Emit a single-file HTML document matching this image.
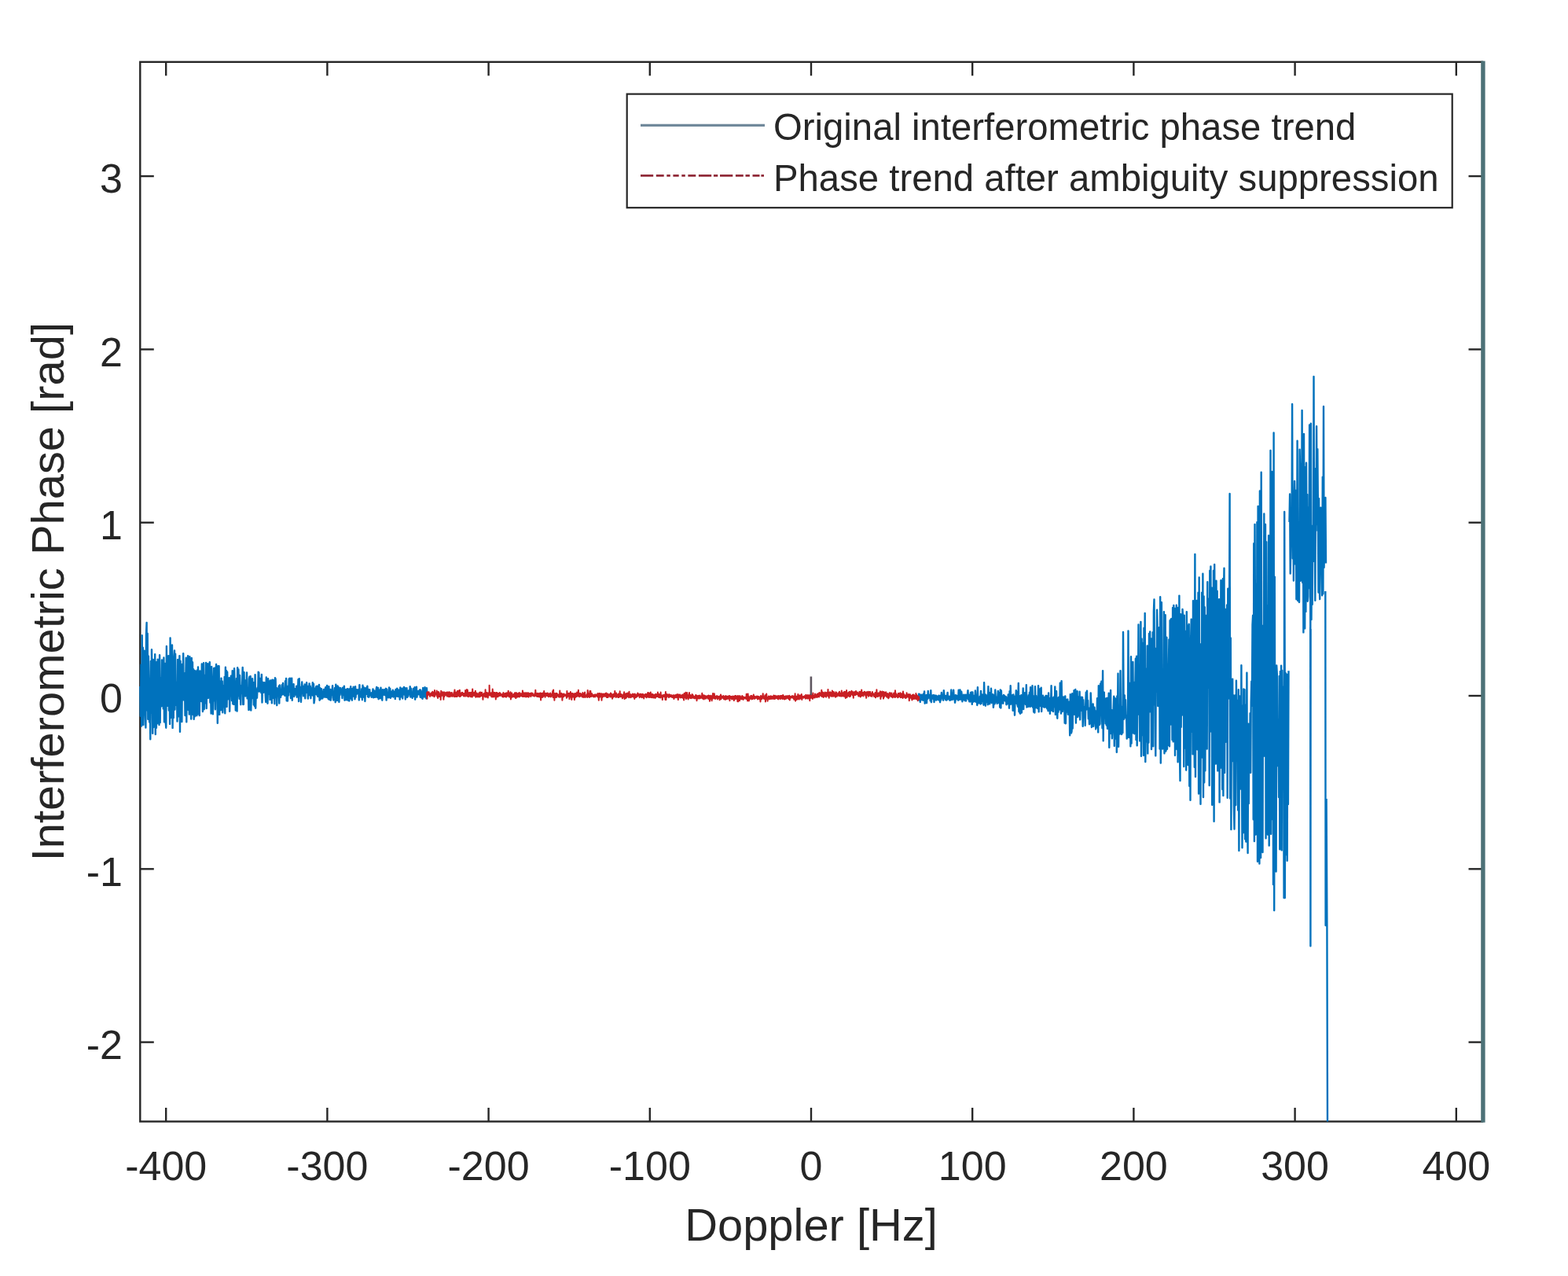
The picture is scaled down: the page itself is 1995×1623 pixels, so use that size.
<!DOCTYPE html>
<html><head><meta charset="utf-8"><title>Interferometric phase vs Doppler</title><style>
html,body{margin:0;padding:0;background:#fff;}
svg{display:block;}
text{font-family:"Liberation Sans",Arial,sans-serif;fill:#262626;}
</style></head><body>
<svg width="1995" height="1623" viewBox="0 0 1995 1623">
<rect width="1995" height="1623" fill="#fff"/>
<clipPath id="c"><rect x="177.0" y="78.8" width="1709.0" height="1347.7"/></clipPath>

<g stroke="#262626" stroke-width="2.4" fill="none">
<rect x="178.3" y="78.8" width="1707.7" height="1347.7"/>
<line x1="211.2" y1="1426.5" x2="211.2" y2="1409.0"/><line x1="211.2" y1="78.8" x2="211.2" y2="96.3"/><line x1="416.4" y1="1426.5" x2="416.4" y2="1409.0"/><line x1="416.4" y1="78.8" x2="416.4" y2="96.3"/><line x1="621.6" y1="1426.5" x2="621.6" y2="1409.0"/><line x1="621.6" y1="78.8" x2="621.6" y2="96.3"/><line x1="826.8" y1="1426.5" x2="826.8" y2="1409.0"/><line x1="826.8" y1="78.8" x2="826.8" y2="96.3"/><line x1="1032.0" y1="1426.5" x2="1032.0" y2="1409.0"/><line x1="1032.0" y1="78.8" x2="1032.0" y2="96.3"/><line x1="1237.2" y1="1426.5" x2="1237.2" y2="1409.0"/><line x1="1237.2" y1="78.8" x2="1237.2" y2="96.3"/><line x1="1442.4" y1="1426.5" x2="1442.4" y2="1409.0"/><line x1="1442.4" y1="78.8" x2="1442.4" y2="96.3"/><line x1="1647.6" y1="1426.5" x2="1647.6" y2="1409.0"/><line x1="1647.6" y1="78.8" x2="1647.6" y2="96.3"/><line x1="1852.8" y1="1426.5" x2="1852.8" y2="1409.0"/><line x1="1852.8" y1="78.8" x2="1852.8" y2="96.3"/><line x1="178.3" y1="1325.6" x2="195.8" y2="1325.6"/><line x1="1886.0" y1="1325.6" x2="1868.5" y2="1325.6"/><line x1="178.3" y1="1105.3" x2="195.8" y2="1105.3"/><line x1="1886.0" y1="1105.3" x2="1868.5" y2="1105.3"/><line x1="178.3" y1="885.0" x2="195.8" y2="885.0"/><line x1="1886.0" y1="885.0" x2="1868.5" y2="885.0"/><line x1="178.3" y1="664.7" x2="195.8" y2="664.7"/><line x1="1886.0" y1="664.7" x2="1868.5" y2="664.7"/><line x1="178.3" y1="444.4" x2="195.8" y2="444.4"/><line x1="1886.0" y1="444.4" x2="1868.5" y2="444.4"/><line x1="178.3" y1="224.1" x2="195.8" y2="224.1"/><line x1="1886.0" y1="224.1" x2="1868.5" y2="224.1"/>
</g>
<g clip-path="url(#c)" fill="none" stroke-linejoin="round">
<path d="M178.3 873.0L178.9 910.7 179.5 845.4 180.1 923.6 180.7 808.3 181.2 916.0 181.8 823.8 182.4 921.9 183.0 892.6 183.6 827.6 184.2 837.8 184.8 898.5 185.4 925.5 186.0 806.8 186.6 792.0 187.1 903.4 187.7 805.8 188.3 914.7 188.9 834.5 189.5 871.3 190.1 918.4 190.7 869.0 191.3 940.2 191.9 841.0 192.5 906.5 193.0 826.2 193.6 871.2 194.2 932.7 194.8 838.9 195.4 925.1 196.0 841.1 196.6 922.4 197.2 832.3 197.8 934.0 198.4 857.2 198.9 925.8 199.5 842.0 200.1 920.3 200.7 838.8 201.3 893.0 201.9 866.3 202.5 922.0 203.1 833.2 203.7 919.1 204.3 862.2 204.8 894.5 205.4 898.4 206.0 839.4 206.6 885.0 207.2 849.7 207.8 901.4 208.4 836.5 209.0 918.2 209.6 843.7 210.2 856.2 210.7 917.7 211.3 925.7 211.9 822.0 212.5 895.9 213.1 870.0 213.7 897.9 214.3 834.1 214.9 903.5 215.5 860.9 216.1 920.9 216.6 811.4 217.2 913.1 217.8 860.1 218.4 884.8 219.0 820.4 219.6 925.9 220.2 848.2 220.8 913.0 221.4 836.3 222.0 827.5 222.5 902.6 223.1 831.6 223.7 896.8 224.3 881.7 224.9 867.7 225.5 917.5 226.1 838.9 226.7 911.4 227.3 851.5 227.9 887.0 228.4 834.1 229.0 930.8 229.6 840.8 230.2 907.4 230.8 858.5 231.4 918.0 232.0 844.8 232.6 890.1 233.2 831.1 233.8 890.4 234.3 860.8 234.9 856.5 235.5 910.1 236.1 874.8 236.7 836.8 237.3 918.3 237.9 846.5 238.5 896.6 239.1 834.3 239.7 903.0 240.2 855.7 240.8 908.5 241.4 835.1 242.0 908.3 242.6 838.0 243.2 914.6 243.8 836.9 244.4 904.1 245.0 842.2 245.6 909.1 246.1 851.1 246.7 914.8 247.3 853.0 247.9 911.2 248.5 853.5 249.1 902.6 249.7 870.2 250.3 910.2 250.9 852.5 251.5 908.6 252.0 848.5 252.6 868.2 253.2 881.8 253.8 910.1 254.4 853.4 255.0 887.5 255.6 857.4 256.2 892.0 256.8 844.5 257.4 854.8 257.9 905.0 258.5 856.4 259.1 843.2 259.7 902.3 260.3 879.7 260.9 858.6 261.5 894.4 262.1 842.9 262.7 901.1 263.3 868.5 263.8 879.4 264.4 844.1 265.0 887.9 265.6 862.1 266.2 879.9 266.8 842.1 267.4 893.5 268.0 873.0 268.6 907.6 269.2 847.9 269.7 876.6 270.3 867.2 270.9 908.2 271.5 872.4 272.1 850.0 272.7 891.4 273.3 849.6 273.9 902.3 274.5 857.5 275.1 845.0 275.6 879.2 276.2 864.8 276.8 919.8 277.4 847.2 278.0 893.1 278.6 847.2 279.2 908.9 279.8 866.4 280.4 890.6 281.0 903.3 281.5 862.6 282.1 884.9 282.7 866.4 283.3 906.3 283.9 897.6 284.5 871.9 285.1 883.9 285.7 860.9 286.3 907.3 286.9 848.8 287.4 892.6 288.0 853.0 288.6 898.9 289.2 854.8 289.8 889.5 290.4 871.6 291.0 877.8 291.6 862.1 292.2 904.7 292.8 873.4 293.3 883.3 293.9 859.6 294.5 863.9 295.1 891.1 295.7 853.2 296.3 895.3 296.9 860.9 297.5 895.9 298.1 850.3 298.7 874.8 299.2 866.4 299.8 903.5 300.4 892.3 301.0 862.9 301.6 904.5 302.2 849.2 302.8 885.0 303.4 851.4 304.0 881.0 304.6 888.8 305.1 858.9 305.7 878.7 306.3 896.3 306.9 872.3 307.5 881.9 308.1 872.5 308.7 849.0 309.3 896.0 309.9 895.9 310.5 854.9 311.0 883.3 311.6 874.0 312.2 885.5 312.8 865.2 313.4 880.0 314.0 855.5 314.6 888.4 315.2 887.2 315.8 875.8 316.4 903.0 316.9 863.6 317.5 860.7 318.1 902.4 318.7 860.1 319.3 903.6 319.9 882.2 320.5 881.9 321.1 863.2 321.7 888.1 322.3 867.9 322.8 896.4 323.4 871.6 324.0 898.2 324.6 858.3 325.2 900.8 325.8 879.8 326.4 876.6 327.0 887.7 327.6 874.8 328.2 879.2 328.7 854.8 329.3 855.3 329.9 879.6 330.5 862.6 331.1 870.0 331.7 862.9 332.3 881.3 332.9 857.9 333.5 893.5 334.1 868.1 334.6 868.0 335.2 880.9 335.8 872.7 336.4 868.3 337.0 871.7 337.6 882.3 338.2 893.0 338.8 861.5 339.4 890.4 340.0 869.6 340.5 894.7 341.1 863.2 341.7 882.7 342.3 879.9 342.9 866.4 343.5 889.9 344.1 865.4 344.7 880.7 345.3 876.8 345.9 894.4 346.4 864.6 347.0 888.1 347.6 865.0 348.2 882.9 348.8 877.1 349.4 895.3 350.0 862.2 350.6 863.5 351.2 887.0 351.8 874.9 352.3 897.1 352.9 878.2 353.5 876.0 354.1 882.7 354.7 872.8 355.3 894.6 355.9 871.4 356.5 884.1 357.1 886.8 357.7 877.6 358.2 884.3 358.8 871.2 359.4 883.0 360.0 869.0 360.6 883.2 361.2 877.7 361.8 875.6 362.4 884.9 363.0 866.3 363.6 882.9 364.1 862.9 364.7 891.2 365.3 877.3 365.9 891.6 366.5 872.7 367.1 884.5 367.7 863.5 368.3 879.8 368.9 862.7 369.5 872.1 370.0 888.1 370.6 883.9 371.2 862.6 371.8 890.7 372.4 876.7 373.0 882.9 373.6 870.1 374.2 886.0 374.8 883.2 375.4 883.2 375.9 875.9 376.5 883.6 377.1 872.8 377.7 886.7 378.3 879.0 378.9 880.0 379.5 864.2 380.1 892.1 380.7 863.2 381.3 884.8 381.8 874.4 382.4 874.2 383.0 892.9 383.6 875.7 384.2 867.5 384.8 879.5 385.4 877.3 386.0 885.4 386.6 872.6 387.2 882.3 387.7 870.5 388.3 888.4 388.9 872.6 389.5 881.0 390.1 868.1 390.7 880.2 391.3 876.0 391.9 888.6 392.5 872.8 393.1 884.4 393.6 869.4 394.2 882.0 394.8 872.8 395.4 888.2 396.0 875.5 396.6 879.5 397.2 884.0 397.8 868.2 398.4 884.9 399.0 869.9 399.5 894.2 400.1 890.6 400.7 876.0 401.3 883.0 401.9 874.6 402.5 872.9 403.1 883.7 403.7 872.7 404.3 886.0 404.9 875.3 405.4 882.9 406.0 871.0 406.6 890.7 407.2 875.0 407.8 889.3 408.4 887.0 409.0 876.1 409.6 881.1 410.2 888.6 410.8 886.9 411.3 886.4 411.9 877.0 412.5 884.4 413.1 886.6 413.7 876.7 414.3 874.1 414.9 886.8 415.5 877.9 416.1 871.9 416.7 887.4 417.2 878.5 417.8 889.1 418.4 873.1 419.0 889.9 419.6 879.8 420.2 877.0 420.8 890.8 421.4 877.9 422.0 883.8 422.6 877.8 423.1 872.1 423.7 887.3 424.3 890.5 424.9 880.2 425.5 882.0 426.1 874.9 426.7 893.3 427.3 870.6 427.9 889.8 428.5 874.0 429.0 891.1 429.6 872.4 430.2 882.9 430.8 874.3 431.4 893.0 432.0 878.5 432.6 884.0 433.2 874.9 433.8 876.6 434.4 877.1 434.9 877.1 435.5 888.1 436.1 874.8 436.7 883.7 437.3 884.0 437.9 872.6 438.5 890.7 439.1 879.1 439.7 888.9 440.3 876.9 440.8 890.4 441.4 880.2 442.0 876.1 442.6 876.1 443.2 891.1 443.8 878.7 444.4 891.5 445.0 876.1 445.6 882.0 446.2 873.1 446.7 888.7 447.3 876.5 447.9 890.7 448.5 875.9 449.1 884.6 449.7 873.7 450.3 885.9 450.9 875.5 451.5 889.4 452.1 873.3 452.6 887.0 453.2 876.9 453.8 882.8 454.4 877.5 455.0 877.2 455.6 881.8 456.2 878.9 456.8 890.5 457.4 871.1 458.0 886.5 458.5 885.3 459.1 880.4 459.7 886.7 460.3 876.1 460.9 890.2 461.5 871.8 462.1 886.4 462.7 874.3 463.3 887.0 463.9 877.1 464.4 892.0 465.0 875.3 465.6 882.9 466.2 882.9 466.8 875.2 467.4 872.7 468.0 886.3 468.6 876.8 469.2 886.8 469.8 885.3 470.3 877.1 470.9 884.1 471.5 881.3 472.1 882.5 472.7 886.8 473.3 880.9 473.9 883.9 474.5 876.4 475.1 887.4 475.7 878.3 476.2 886.8 476.8 881.3 477.4 886.9 478.0 879.2 478.6 877.3 479.2 874.0 479.8 886.9 480.4 879.3 481.0 874.9 481.6 889.3 482.1 879.2 482.7 886.4 483.3 877.5 483.9 888.4 484.5 874.8 485.1 886.7 485.7 881.3 486.3 890.7 486.9 877.2 487.5 884.1 488.0 877.9 488.6 883.6 489.2 877.3 489.8 884.2 490.4 878.0 491.0 875.8 491.6 890.6 492.2 876.8 492.8 887.3 493.4 880.8 493.9 885.7 494.5 887.3 495.1 874.5 495.7 886.9 496.3 875.9 496.9 887.9 497.5 881.6 498.1 886.1 498.7 879.4 499.3 882.5 499.8 877.8 500.4 886.5 501.0 879.9 501.6 885.1 502.2 879.4 502.8 889.1 503.4 877.0 504.0 879.4 504.6 885.5 505.2 875.7 505.7 876.6 506.3 886.1 506.9 879.3 507.5 882.1 508.1 877.5 508.7 889.7 509.3 874.5 509.9 886.4 510.5 877.1 511.1 886.5 511.6 875.8 512.2 888.5 512.8 875.7 513.4 876.3 514.0 873.9 514.6 883.6 515.2 875.0 515.8 889.5 516.4 879.0 517.0 885.9 517.5 875.1 518.1 887.0 518.7 881.7 519.3 885.6 519.9 878.4 520.5 881.5 521.1 883.3 521.7 873.2 522.3 886.6 522.9 875.7 523.4 884.3 524.0 881.0 524.6 887.9 525.2 884.8 525.8 876.0 526.4 885.9 527.0 879.0 527.6 874.3 528.2 889.7 528.8 877.7 529.3 884.9 529.9 873.6 530.5 886.7 531.1 879.8 531.7 882.8 532.3 878.9 532.9 883.4 533.5 880.6 534.1 877.4 534.7 886.7 535.2 877.7 535.8 880.5 536.4 887.5 537.0 880.2 537.6 888.9 538.2 875.0 538.8 886.1 539.4 880.1 540.0 886.6 540.6 874.2 541.1 884.4 541.7 879.0 542.3 888.5 542.9 875.2 543.5 883.3 M1169.0 881.7L1169.6 890.6 1170.2 883.3 1170.8 893.0 1171.4 884.8 1171.9 890.1 1172.5 883.8 1173.1 890.1 1173.7 884.9 1174.3 890.7 1174.9 882.5 1175.5 890.4 1176.1 879.4 1176.7 894.7 1177.3 886.1 1177.8 887.7 1178.4 884.3 1179.0 894.2 1179.6 884.0 1180.2 889.0 1180.8 879.0 1181.4 887.5 1182.0 883.8 1182.6 885.3 1183.2 886.1 1183.7 891.3 1184.3 878.2 1184.9 893.2 1185.5 885.8 1186.1 888.6 1186.7 884.5 1187.3 888.8 1187.9 884.1 1188.5 893.1 1189.0 884.7 1189.6 890.4 1190.2 884.7 1190.8 884.6 1191.4 890.6 1192.0 885.4 1192.6 888.1 1193.2 886.5 1193.8 890.0 1194.4 884.6 1194.9 890.6 1195.5 886.0 1196.1 893.2 1196.7 884.6 1197.3 890.3 1197.9 880.9 1198.5 887.7 1199.1 885.9 1199.7 884.2 1200.2 890.7 1200.8 878.1 1201.4 884.0 1202.0 888.2 1202.6 884.9 1203.2 890.2 1203.8 885.2 1204.4 890.6 1205.0 885.5 1205.6 880.9 1206.1 889.4 1206.7 885.9 1207.3 889.0 1207.9 885.7 1208.5 890.9 1209.1 885.8 1209.7 890.2 1210.3 877.5 1210.9 884.2 1211.5 890.0 1212.0 885.9 1212.6 889.1 1213.2 877.8 1213.8 889.5 1214.4 884.3 1215.0 893.7 1215.6 890.8 1216.2 884.3 1216.8 888.8 1217.3 885.9 1217.9 889.4 1218.5 884.7 1219.1 890.7 1219.7 877.6 1220.3 881.5 1220.9 889.9 1221.5 877.4 1222.1 888.6 1222.7 889.5 1223.2 879.7 1223.8 883.8 1224.4 892.3 1225.0 887.4 1225.6 890.2 1226.2 883.7 1226.8 890.3 1227.4 885.7 1228.0 891.4 1228.5 883.6 1229.1 891.5 1229.7 884.3 1230.3 888.1 1230.9 883.5 1231.5 878.2 1232.1 889.8 1232.7 883.6 1233.3 892.4 1233.9 883.8 1234.4 892.5 1235.0 881.0 1235.6 888.6 1236.2 880.5 1236.8 895.9 1237.4 880.4 1238.0 892.8 1238.6 884.8 1239.2 889.7 1239.8 887.7 1240.3 892.4 1240.9 878.5 1241.5 886.8 1242.1 893.0 1242.7 883.9 1243.3 897.0 1243.9 874.1 1244.5 894.6 1245.1 890.6 1245.6 888.1 1246.2 894.1 1246.8 885.6 1247.4 895.5 1248.0 878.9 1248.6 894.9 1249.2 884.1 1249.8 883.6 1250.4 891.5 1251.0 886.0 1251.5 896.8 1252.1 868.2 1252.7 892.8 1253.3 883.5 1253.9 897.8 1254.5 883.7 1255.1 892.7 1255.7 885.4 1256.3 889.3 1256.9 896.3 1257.4 873.1 1258.0 893.9 1258.6 883.9 1259.2 895.5 1259.8 880.9 1260.4 891.5 1261.0 875.7 1261.6 894.0 1262.2 883.1 1262.7 890.8 1263.3 883.2 1263.9 899.9 1264.5 892.8 1265.1 884.2 1265.7 895.2 1266.3 877.5 1266.9 890.6 1267.5 892.9 1268.1 887.0 1268.6 895.0 1269.2 888.2 1269.8 879.0 1270.4 884.2 1271.0 894.2 1271.6 880.9 1272.2 899.6 1272.8 877.4 1273.4 900.5 1273.9 878.5 1274.5 894.6 1275.1 885.2 1275.7 886.7 1276.3 894.7 1276.9 884.0 1277.5 890.8 1278.1 885.0 1278.7 885.7 1279.3 891.9 1279.8 886.2 1280.4 896.3 1281.0 887.7 1281.6 895.3 1282.2 892.0 1282.8 883.4 1283.4 885.5 1284.0 900.7 1284.6 879.2 1285.2 895.9 1285.7 872.3 1286.3 895.6 1286.9 886.5 1287.5 891.1 1288.1 884.3 1288.7 903.9 1289.3 883.5 1289.9 896.9 1290.5 885.8 1291.0 909.6 1291.6 886.9 1292.2 892.4 1292.8 878.2 1293.4 894.7 1294.0 880.0 1294.6 897.0 1295.2 898.9 1295.8 869.0 1296.4 905.0 1296.9 884.9 1297.5 906.6 1298.1 907.7 1298.7 899.8 1299.3 884.2 1299.9 906.5 1300.5 885.8 1301.1 891.9 1301.7 875.5 1302.2 902.1 1302.8 889.4 1303.4 891.0 1304.0 881.1 1304.6 894.9 1305.2 896.1 1305.8 871.2 1306.4 899.5 1307.0 886.5 1307.6 887.5 1308.1 899.0 1308.7 884.3 1309.3 895.6 1309.9 880.7 1310.5 899.0 1311.1 874.2 1311.7 898.4 1312.3 890.9 1312.9 896.1 1313.5 872.3 1314.0 899.5 1314.6 891.0 1315.2 905.6 1315.8 885.1 1316.4 906.6 1317.0 873.3 1317.6 900.4 1318.2 884.9 1318.8 893.8 1319.3 890.8 1319.9 901.0 1320.5 895.6 1321.1 872.1 1321.7 905.4 1322.3 884.6 1322.9 893.3 1323.5 876.1 1324.1 898.0 1324.7 874.8 1325.2 905.0 1325.8 886.4 1326.4 897.7 1327.0 884.7 1327.6 899.0 1328.2 887.9 1328.8 899.8 1329.4 886.6 1330.0 898.7 1330.6 884.9 1331.1 899.8 1331.7 885.0 1332.3 901.5 1332.9 889.2 1333.5 904.2 1334.1 881.4 1334.7 903.9 1335.3 888.4 1335.9 907.9 1336.4 887.9 1337.0 895.5 1337.6 872.3 1338.2 903.7 1338.8 903.4 1339.4 887.9 1340.0 905.1 1340.6 886.7 1341.2 891.8 1341.8 899.0 1342.3 873.4 1342.9 908.9 1343.5 885.3 1344.1 879.3 1344.7 904.0 1345.3 913.8 1345.9 888.0 1346.5 905.8 1347.1 887.0 1347.6 898.4 1348.2 902.6 1348.8 868.6 1349.4 873.0 1350.0 907.5 1350.6 866.2 1351.2 903.2 1351.8 904.9 1352.4 892.3 1353.0 886.5 1353.5 901.5 1354.1 891.7 1354.7 919.6 1355.3 885.4 1355.9 920.3 1356.5 889.6 1357.1 905.6 1357.7 890.6 1358.3 889.5 1358.9 908.7 1359.4 905.1 1360.0 904.5 1360.6 892.4 1361.2 935.3 1361.8 883.2 1362.4 897.4 1363.0 932.4 1363.6 930.0 1364.2 882.2 1364.7 926.5 1365.3 888.4 1365.9 905.3 1366.5 878.2 1367.1 908.8 1367.7 890.8 1368.3 876.9 1368.9 919.6 1369.5 891.3 1370.1 911.7 1370.6 879.3 1371.2 912.1 1371.8 886.3 1372.4 910.3 1373.0 904.7 1373.6 879.8 1374.2 915.4 1374.8 888.1 1375.4 903.7 1375.9 886.7 1376.5 904.0 1377.1 886.9 1377.7 923.7 1378.3 890.3 1378.9 905.4 1379.5 899.0 1380.1 908.4 1380.7 922.9 1381.3 894.5 1381.8 880.6 1382.4 902.5 1383.0 878.6 1383.6 899.7 1384.2 891.0 1384.8 914.1 1385.4 900.5 1386.0 921.2 1386.6 900.7 1387.2 920.2 1387.7 881.4 1388.3 894.2 1388.9 925.0 1389.5 902.4 1390.1 922.0 1390.7 895.5 1391.3 923.9 1391.9 916.7 1392.5 899.8 1393.0 906.8 1393.6 904.5 1394.2 927.4 1394.8 904.3 1395.4 925.3 1396.0 888.2 1396.6 888.5 1397.2 931.4 1397.8 872.3 1398.4 880.3 1398.9 922.0 1399.5 920.7 1400.1 869.5 1400.7 907.7 1401.3 866.7 1401.9 906.8 1402.5 926.2 1403.1 853.3 1403.7 942.2 1404.2 892.5 1404.8 880.6 1405.4 911.0 1406.0 901.6 1406.6 920.4 1407.2 888.4 1407.8 922.4 1408.4 887.9 1409.0 926.7 1409.6 887.7 1410.1 913.3 1410.7 881.6 1411.3 950.8 1411.9 890.5 1412.5 925.4 1413.1 877.9 1413.7 933.1 1414.3 902.9 1414.9 939.3 1415.5 925.8 1416.0 929.6 1416.6 903.9 1417.2 885.6 1417.8 948.7 1418.4 887.6 1419.0 939.7 1419.6 930.5 1420.2 889.0 1420.8 956.8 1421.3 885.4 1421.9 922.5 1422.5 856.7 1423.1 949.7 1423.7 903.7 1424.3 932.1 1424.9 933.6 1425.5 853.1 1426.1 915.6 1426.7 914.6 1427.2 934.1 1427.8 898.6 1428.4 932.0 1429.0 804.0 1429.6 886.7 1430.2 914.8 1430.8 884.4 1431.4 912.7 1432.0 890.1 1432.6 912.1 1433.1 909.6 1433.7 939.6 1434.3 929.6 1434.9 935.2 1435.5 802.5 1436.1 938.0 1436.7 868.8 1437.3 926.5 1437.9 883.5 1438.4 949.2 1439.0 835.3 1439.6 945.5 1440.2 861.5 1440.8 932.5 1441.4 841.9 1442.0 907.8 1442.6 876.1 1443.2 933.2 1443.8 867.8 1444.3 879.6 1444.9 837.7 1445.5 941.0 1446.1 834.6 1446.7 948.3 1447.3 870.3 1447.9 894.8 1448.5 794.5 1449.1 908.8 1449.6 876.5 1450.2 942.4 1450.8 940.4 1451.4 791.0 1452.0 961.8 1452.6 812.5 1453.2 935.0 1453.8 817.7 1454.4 908.3 1455.0 960.7 1455.5 798.7 1456.1 892.9 1456.7 780.0 1457.3 969.0 1457.9 924.6 1458.5 850.4 1459.1 943.4 1459.7 821.4 1460.3 958.4 1460.9 824.0 1461.4 944.6 1462.0 805.9 1462.6 905.4 1463.2 803.5 1463.8 892.3 1464.4 812.2 1465.0 953.0 1465.6 852.1 1466.2 915.8 1466.7 804.1 1467.3 949.2 1467.9 777.8 1468.5 762.4 1469.1 896.2 1469.7 829.6 1470.3 961.3 1470.9 824.7 1471.5 879.9 1472.1 775.8 1472.6 798.7 1473.2 898.1 1473.8 802.8 1474.4 888.1 1475.0 797.9 1475.6 952.6 1476.2 759.2 1476.8 970.6 1477.4 923.4 1477.9 766.1 1478.5 934.6 1479.1 952.5 1479.7 854.1 1480.3 931.6 1480.9 778.1 1481.5 958.2 1482.1 812.4 1482.7 782.2 1483.3 955.5 1483.8 952.6 1484.4 810.6 1485.0 952.8 1485.6 862.2 1486.2 947.9 1486.8 854.9 1487.4 813.4 1488.0 949.2 1488.6 789.2 1489.2 921.5 1489.7 787.8 1490.3 787.1 1490.9 794.6 1491.5 941.1 1492.1 773.0 1492.7 943.2 1493.3 769.9 1493.9 939.4 1494.5 773.6 1495.0 960.7 1495.6 776.9 1496.2 949.0 1496.8 769.7 1497.4 953.1 1498.0 782.9 1498.6 969.2 1499.2 772.6 1499.8 883.9 1500.4 757.6 1500.9 952.0 1501.5 993.0 1502.1 781.2 1502.7 924.7 1503.3 781.5 1503.9 909.5 1504.5 774.9 1505.1 784.6 1505.7 793.1 1506.3 975.1 1506.8 782.6 1507.4 951.6 1508.0 946.4 1508.6 802.7 1509.2 979.5 1509.8 778.1 1510.4 883.8 1511.0 833.7 1511.6 973.0 1512.1 796.3 1512.7 793.8 1513.3 999.7 1513.9 826.1 1514.5 1017.7 1515.1 814.5 1515.7 787.6 1516.3 930.7 1516.9 827.1 1517.5 959.2 1518.0 764.1 1518.6 842.8 1519.2 841.6 1519.8 975.7 1520.4 705.0 1521.0 988.0 1521.6 806.8 1522.2 842.7 1522.8 763.9 1523.3 953.2 1523.9 887.1 1524.5 753.7 1525.1 1009.6 1525.7 734.4 1526.3 988.8 1526.9 819.1 1527.5 1022.7 1528.1 848.4 1528.7 940.5 1529.2 753.6 1529.8 963.6 1530.4 729.8 1531.0 1014.0 1531.6 758.4 1532.2 995.3 1532.8 772.1 1533.4 980.2 1534.0 801.6 1534.6 873.8 1535.1 782.7 1535.7 952.5 1536.3 740.3 1536.9 874.5 1537.5 828.3 1538.1 761.5 1538.7 999.0 1539.3 725.7 1539.9 914.4 1540.4 720.4 1541.0 930.5 1541.6 747.4 1542.2 1023.8 1542.8 759.8 1543.4 938.3 1544.0 725.7 1544.6 1044.8 1545.2 718.0 1545.8 833.8 1546.3 919.9 1546.9 971.6 1547.5 738.7 1548.1 898.1 1548.7 751.7 1549.3 980.4 1549.9 789.9 1550.5 979.2 1551.1 762.2 1551.6 1020.4 1552.2 829.6 1552.8 976.7 1553.4 738.3 1554.0 967.1 1554.6 803.6 1555.2 1003.9 1555.8 736.2 1556.4 1012.1 1557.0 751.4 1557.5 722.7 1558.1 982.9 1558.7 774.6 1559.3 943.7 1559.9 794.4 1560.5 938.2 1561.1 769.4 1561.7 1014.7 1562.3 748.8 1562.9 888.6 1563.4 872.5 1564.0 799.8 1564.6 628.0 1565.2 1015.4 1565.8 811.4 1566.4 1055.0 1567.0 880.5 1567.6 954.1 1568.2 863.6 1568.7 968.0 1569.3 884.2 1569.9 1025.5 1570.5 1054.5 1571.1 996.6 1571.7 884.2 1572.3 1024.1 1572.9 865.7 1573.5 939.9 1574.1 930.0 1574.6 890.6 1575.2 1030.4 1575.8 877.2 1576.4 1082.0 1577.0 885.3 1577.6 964.0 1578.2 917.9 1578.8 1003.6 1579.4 846.2 1580.0 985.8 1580.5 1078.3 1581.1 897.4 1581.7 1059.3 1582.3 876.5 1582.9 1016.9 1583.5 877.1 1584.1 1067.2 1584.7 896.5 1585.3 1070.6 1585.8 1010.9 1586.4 855.8 1587.0 1041.5 1587.6 1085.0 1588.2 920.8 1588.8 1022.1 1589.4 920.6 1590.0 971.8 1590.6 907.2 1591.2 982.8 1591.7 893.7 1592.3 866.6 1592.9 897.9 1593.5 794.7 1594.1 782.8 1594.7 1042.3 1595.3 691.2 1595.9 1070.0 1596.5 667.0 1597.0 795.8 1597.6 1061.5 1598.2 742.5 1598.8 1058.2 1599.4 664.1 1600.0 1095.8 1600.6 644.0 1601.2 1008.2 1601.8 704.1 1602.4 1098.6 1602.9 624.4 1603.5 629.9 1604.1 1091.1 1604.7 600.7 1605.3 978.2 1605.9 1068.1 1606.5 1084.1 1607.1 795.6 1607.7 902.2 1608.3 653.4 1608.8 961.5 1609.4 811.1 1610.0 667.0 1610.6 1066.3 1611.2 689.2 1611.8 1050.9 1612.4 770.3 1613.0 1061.5 1613.6 843.2 1614.1 681.2 1614.7 1075.5 1615.3 875.6 1615.9 1030.4 1616.5 573.0 1617.1 1060.7 1617.7 718.1 1618.3 600.0 1618.9 1042.0 1619.5 712.1 1620.0 1125.0 1620.6 550.5 1621.2 1158.0 1621.8 733.6 1622.4 1059.9 1623.0 923.3 1623.6 1108.5 1624.2 846.4 1624.8 857.4 1625.3 974.1 1625.9 929.1 1626.5 914.9 1627.1 1014.0 1627.7 859.9 1628.3 1080.3 1628.9 854.0 1629.5 1034.9 1630.1 846.8 1630.7 1081.4 1631.2 852.6 1631.8 933.6 1632.4 989.1 1633.0 873.5 1633.6 1142.0 1634.2 651.0 1634.8 910.2 1635.4 1087.4 1636.0 856.4 1636.6 976.4 1637.1 878.2 1637.7 1094.7 1638.3 857.6 1638.9 1022.9 1639.5 853.3 M1640.5 664.1L1641.1 628.4 1641.7 729.6 1642.3 691.6 1642.9 665.8 1643.5 678.4 1644.1 514.0 1644.7 710.3 1645.3 629.9 1645.9 738.5 1646.5 641.9 1647.1 611.9 1647.7 645.0 1648.2 717.4 1648.8 624.0 1649.4 762.2 1650.0 752.9 1650.6 560.8 1651.2 764.1 1651.8 682.1 1652.4 692.5 1653.0 766.1 1653.6 571.7 1654.2 601.0 1654.8 738.7 1655.4 590.4 1656.0 730.5 1656.6 522.0 1657.2 740.9 1657.8 583.6 1658.4 804.4 1659.0 552.0 1659.6 749.1 1660.2 799.4 1660.8 593.9 1661.4 777.9 1662.0 588.8 1662.6 704.3 1663.2 629.0 1663.8 764.7 1664.3 758.6 1664.9 645.3 1665.5 748.1 1666.1 540.4 1666.7 591.4 1667.3 803.5 1667.9 538.6 1668.5 788.0 1669.1 680.4 1669.7 768.7 1670.3 668.6 1670.9 714.0 1671.5 479.0 1672.1 710.7 1672.7 595.9 1673.3 763.8 1673.9 653.0 1674.5 674.8 1675.1 542.2 1675.7 667.1 1676.3 571.1 1676.9 644.5 1677.5 753.5 1678.1 634.2 1678.7 743.0 1679.2 762.1 1679.8 704.6 1680.4 645.6 1681.0 718.9 1681.6 698.0 1682.2 757.2 1682.8 606.6 1683.4 755.2 1684.0 517.0 1684.6 721.7 1685.2 681.9 1685.8 645.1 1686.4 633.0 1687.0 716.6 M1667.2 798.0L1667.4 1203.3 1667.6 800.0 M1686.3 752.0L1686.6 1177.0 1687.2 1016.0 M1687.6 1016.0L1688.4 1177.0 1689.0 1430.0 M1634.6 1060.0L1634.8 1142.0 1635.0 1060.0" stroke="#0072BD" stroke-width="2.4"/>
<path d="M543.0 880.5L543.5 888.7 543.9 880.0 544.4 884.7 544.8 881.7 545.3 883.2 545.7 880.3 546.2 883.5 546.6 882.7 547.1 885.9 547.5 882.5 548.0 884.5 548.5 881.4 548.9 883.5 549.4 881.1 549.8 884.9 550.3 879.8 550.7 883.5 551.2 883.0 551.6 885.3 552.1 880.3 552.6 886.3 553.0 877.9 553.5 885.0 553.9 881.4 554.4 883.3 554.8 881.3 555.3 883.4 555.7 878.6 556.2 886.0 556.6 881.0 557.1 887.9 557.6 880.1 558.0 885.3 558.5 880.6 558.9 886.1 559.4 882.2 559.8 885.2 560.3 882.6 560.7 889.9 561.2 878.8 561.7 885.3 562.1 881.4 562.6 883.3 563.0 880.2 563.5 884.4 563.9 880.7 564.4 889.7 564.8 880.6 565.3 886.1 565.7 880.6 566.2 884.5 566.7 881.6 567.1 883.7 567.6 880.9 568.0 884.4 568.5 880.6 568.9 885.7 569.4 880.4 569.8 885.2 570.3 882.7 570.8 886.2 571.2 880.3 571.7 883.7 572.1 880.6 572.6 886.2 573.0 881.3 573.5 885.3 573.9 881.2 574.4 884.8 574.8 880.9 575.3 885.9 575.8 883.1 576.2 885.4 576.7 883.1 577.1 884.9 577.6 880.4 578.0 886.2 578.5 877.4 578.9 885.2 579.4 883.0 579.9 886.0 580.3 880.5 580.8 886.1 581.2 881.3 581.7 885.9 582.1 878.7 582.6 884.4 583.0 880.4 583.5 884.8 583.9 878.6 584.4 885.7 584.9 877.8 585.3 886.1 585.8 883.1 586.2 885.5 586.7 881.4 587.1 884.5 587.6 880.7 588.0 884.2 588.5 881.1 589.0 883.8 589.4 882.0 589.9 885.5 590.3 881.9 590.8 884.4 591.2 883.1 591.7 885.8 592.1 878.0 592.6 884.8 593.0 880.8 593.5 883.9 594.0 877.0 594.4 885.7 594.9 877.7 595.3 885.0 595.8 881.1 596.2 886.2 596.7 881.4 597.1 885.5 597.6 880.8 598.1 884.9 598.5 883.0 599.0 886.3 599.4 880.8 599.9 884.2 600.3 883.5 600.8 886.5 601.2 876.4 601.7 885.2 602.1 883.3 602.6 883.9 603.1 881.1 603.5 884.6 604.0 880.6 604.4 885.3 604.9 878.7 605.3 886.8 605.8 881.4 606.2 886.1 606.7 881.5 607.2 885.0 607.6 882.8 608.1 886.5 608.5 882.9 609.0 884.3 609.4 881.5 609.9 886.5 610.3 880.7 610.8 886.3 611.2 880.6 611.7 884.7 612.2 881.3 612.6 885.1 613.1 880.7 613.5 884.8 614.0 882.7 614.4 889.8 614.9 883.3 615.3 885.6 615.8 882.1 616.3 883.9 616.7 881.9 617.2 886.4 617.6 877.3 618.1 886.5 618.5 881.1 619.0 886.5 619.4 881.1 619.9 886.5 620.3 881.6 620.8 887.4 621.3 881.5 621.7 884.4 622.2 880.7 622.6 884.3 623.1 880.9 623.5 884.6 624.0 881.3 624.4 884.5 624.9 881.7 625.4 886.3 625.8 881.0 626.3 886.5 626.7 876.5 627.2 885.6 627.6 881.2 628.1 886.5 628.5 880.8 629.0 885.8 629.4 880.9 629.9 884.9 630.4 881.7 630.8 889.4 631.3 880.9 631.7 886.6 632.2 881.1 632.6 884.7 633.1 882.4 633.5 886.3 634.0 881.7 634.4 885.3 634.9 882.3 635.4 884.1 635.8 881.0 636.3 885.1 636.7 881.9 637.2 884.4 637.6 883.2 638.1 884.2 638.5 883.7 639.0 886.1 639.5 882.5 639.9 886.5 640.4 881.1 640.8 886.4 641.3 882.5 641.7 884.1 642.2 882.2 642.6 886.0 643.1 881.7 643.5 886.5 644.0 881.7 644.5 886.4 644.9 881.2 645.4 883.9 645.8 883.2 646.3 885.3 646.7 878.7 647.2 885.6 647.6 881.3 648.1 886.6 648.6 883.8 649.0 885.4 649.5 880.3 649.9 889.4 650.4 882.0 650.8 886.4 651.3 881.5 651.7 886.7 652.2 883.6 652.6 886.3 653.1 883.6 653.6 885.6 654.0 882.7 654.5 886.6 654.9 881.2 655.4 886.1 655.8 882.6 656.3 888.1 656.7 881.1 657.2 886.5 657.7 882.0 658.1 886.7 658.6 883.7 659.0 886.2 659.5 881.8 659.9 886.0 660.4 881.2 660.8 886.4 661.3 881.2 661.7 885.7 662.2 883.8 662.7 885.0 663.1 882.3 663.6 884.2 664.0 882.8 664.5 885.9 664.9 878.4 665.4 884.9 665.8 882.9 666.3 886.0 666.8 881.2 667.2 885.9 667.7 882.3 668.1 884.4 668.6 881.2 669.0 886.4 669.5 882.0 669.9 884.1 670.4 881.3 670.8 886.2 671.3 883.2 671.8 886.1 672.2 881.3 672.7 886.7 673.1 883.6 673.6 884.3 674.0 882.0 674.5 884.8 674.9 881.9 675.4 886.1 675.9 881.4 676.3 884.1 676.8 881.6 677.2 884.4 677.7 882.0 678.1 884.8 678.6 883.7 679.0 885.3 679.5 883.8 679.9 885.7 680.4 882.0 680.9 884.7 681.3 877.7 681.8 884.9 682.2 882.0 682.7 885.6 683.1 882.2 683.6 886.1 684.0 881.7 684.5 886.1 685.0 882.0 685.4 886.2 685.9 882.6 686.3 886.5 686.8 881.8 687.2 885.9 687.7 881.6 688.1 890.5 688.6 881.9 689.0 886.8 689.5 882.2 690.0 886.9 690.4 881.5 690.9 886.4 691.3 884.1 691.8 885.2 692.2 879.1 692.7 884.3 693.1 881.7 693.6 886.8 694.1 883.7 694.5 884.9 695.0 881.7 695.4 884.7 695.9 883.2 696.3 885.2 696.8 881.6 697.2 885.2 697.7 883.4 698.1 886.3 698.6 882.5 699.1 885.8 699.5 882.3 700.0 885.7 700.4 881.5 700.9 886.4 701.3 882.9 701.8 884.5 702.2 884.3 702.7 885.2 703.2 878.9 703.6 887.0 704.1 877.4 704.5 886.8 705.0 883.7 705.4 890.8 705.9 881.9 706.3 886.9 706.8 883.7 707.2 887.0 707.7 881.8 708.2 886.8 708.6 882.0 709.1 884.6 709.5 883.1 710.0 885.2 710.4 883.8 710.9 886.5 711.3 883.3 711.8 886.5 712.3 878.5 712.7 886.7 713.2 882.4 713.6 886.2 714.1 881.8 714.5 884.3 715.0 882.6 715.4 890.7 715.9 882.5 716.3 886.8 716.8 883.0 717.3 886.1 717.7 882.6 718.2 885.0 718.6 883.8 719.1 884.5 719.5 883.5 720.0 885.1 720.4 884.2 720.9 887.8 721.4 879.0 721.8 886.6 722.3 881.8 722.7 885.4 723.2 882.0 723.6 885.5 724.1 881.8 724.5 889.1 725.0 882.4 725.4 886.6 725.9 880.1 726.4 885.4 726.8 882.0 727.3 889.9 727.7 881.9 728.2 886.7 728.6 881.9 729.1 886.4 729.5 882.4 730.0 884.9 730.4 882.9 730.9 890.1 731.4 881.9 731.8 887.4 732.3 884.3 732.7 886.5 733.2 881.8 733.6 885.9 734.1 880.5 734.5 884.7 735.0 881.9 735.5 885.5 735.9 877.8 736.4 884.9 736.8 883.1 737.3 886.3 737.7 881.9 738.2 885.6 738.6 881.9 739.1 885.4 739.5 883.0 740.0 884.5 740.5 882.9 740.9 886.6 741.4 881.1 741.8 886.4 742.3 884.1 742.7 886.9 743.2 882.0 743.6 885.1 744.1 880.4 744.6 887.0 745.0 884.3 745.5 885.6 745.9 884.2 746.4 885.8 746.8 883.1 747.3 887.0 747.7 877.9 748.2 886.1 748.6 882.0 749.1 886.2 749.6 882.7 750.0 887.0 750.5 879.0 750.9 885.7 751.4 878.9 751.8 886.1 752.3 882.0 752.7 885.8 753.2 882.3 753.7 885.1 754.1 884.4 754.6 886.0 755.0 884.0 755.5 886.6 755.9 884.1 756.4 886.1 756.8 883.6 757.3 886.4 757.7 883.4 758.2 885.3 758.7 883.5 759.1 884.8 759.6 884.4 760.0 886.0 760.5 882.0 760.9 886.6 761.4 884.4 761.8 890.7 762.3 882.1 762.8 886.9 763.2 882.1 763.7 885.7 764.1 883.7 764.6 884.9 765.0 882.3 765.5 890.8 765.9 882.6 766.4 887.0 766.8 884.1 767.3 886.1 767.8 882.4 768.2 885.5 768.7 883.3 769.1 885.4 769.6 882.6 770.0 885.8 770.5 882.1 770.9 885.4 771.4 881.4 771.9 887.0 772.3 883.1 772.8 886.9 773.2 882.5 773.7 887.0 774.1 883.2 774.6 884.9 775.0 883.6 775.5 885.2 775.9 882.9 776.4 886.5 776.9 881.5 777.3 886.2 777.8 882.3 778.2 886.6 778.7 884.0 779.1 888.7 779.6 883.5 780.0 886.4 780.5 882.8 781.0 886.5 781.4 882.8 781.9 885.3 782.3 878.9 782.8 885.7 783.2 882.3 783.7 887.0 784.1 881.6 784.6 885.9 785.0 883.2 785.5 885.8 786.0 883.9 786.4 887.0 786.9 882.4 787.3 887.1 787.8 883.3 788.2 885.6 788.7 879.3 789.1 886.2 789.6 882.8 790.1 886.2 790.5 882.9 791.0 885.3 791.4 884.6 791.9 888.3 792.3 884.0 792.8 887.0 793.2 883.0 793.7 886.1 794.1 880.2 794.6 889.1 795.1 883.1 795.5 885.2 796.0 882.5 796.4 887.9 796.9 882.0 797.3 886.9 797.8 883.0 798.2 886.2 798.7 881.5 799.2 885.3 799.6 884.2 800.1 887.2 800.5 879.7 801.0 886.9 801.4 884.0 801.9 886.4 802.3 883.3 802.8 887.2 803.2 883.7 803.7 886.0 804.2 883.5 804.6 885.9 805.1 882.5 805.5 886.5 806.0 883.1 806.4 886.4 806.9 884.7 807.3 888.9 807.8 882.5 808.3 887.1 808.7 883.8 809.2 887.0 809.6 884.3 810.1 886.3 810.5 883.0 811.0 885.7 811.4 881.4 811.9 884.9 812.3 882.7 812.8 884.9 813.3 884.5 813.7 887.2 814.2 882.8 814.6 885.5 815.1 882.7 815.5 886.2 816.0 883.6 816.4 887.2 816.9 882.9 817.3 887.0 817.8 882.7 818.3 886.0 818.7 883.5 819.2 888.4 819.6 884.1 820.1 885.2 820.5 883.5 821.0 885.9 821.4 882.7 821.9 886.6 822.4 883.9 822.8 887.3 823.3 882.8 823.7 885.6 824.2 881.1 824.6 886.0 825.1 881.2 825.5 887.1 826.0 883.1 826.4 886.8 826.9 881.6 827.4 886.7 827.8 880.4 828.3 886.9 828.7 882.8 829.2 887.2 829.6 883.0 830.1 885.1 830.5 883.0 831.0 887.3 831.5 884.9 831.9 887.6 832.4 883.7 832.8 887.1 833.3 884.1 833.7 887.8 834.2 882.8 834.6 886.7 835.1 883.3 835.5 886.1 836.0 883.8 836.5 886.1 836.9 880.6 837.4 885.5 837.8 883.0 838.3 887.1 838.7 882.9 839.2 886.8 839.6 883.3 840.1 887.4 840.6 880.6 841.0 886.6 841.5 884.9 841.9 887.1 842.4 884.4 842.8 890.1 843.3 884.4 843.7 885.6 844.2 884.0 844.6 886.0 845.1 883.8 845.6 886.5 846.0 883.7 846.5 889.9 846.9 880.1 847.4 890.1 847.8 883.9 848.3 886.8 848.7 883.0 849.2 885.7 849.7 884.1 850.1 885.2 850.6 883.4 851.0 887.2 851.5 883.3 851.9 886.4 852.4 883.8 852.8 886.0 853.3 884.2 853.7 886.2 854.2 884.2 854.7 886.8 855.1 884.6 855.6 887.1 856.0 884.9 856.5 885.2 856.9 884.2 857.4 888.9 857.8 884.3 858.3 887.4 858.8 885.0 859.2 887.2 859.7 884.1 860.1 885.7 860.6 883.5 861.0 887.2 861.5 884.7 861.9 887.0 862.4 883.1 862.8 890.1 863.3 885.0 863.8 886.8 864.2 883.7 864.7 885.9 865.1 883.4 865.6 887.5 866.0 885.0 866.5 886.5 866.9 884.6 867.4 887.3 867.9 884.1 868.3 887.5 868.8 883.6 869.2 887.8 869.7 884.2 870.1 890.4 870.6 881.9 871.0 887.6 871.5 884.4 871.9 886.1 872.4 880.7 872.9 888.9 873.3 885.3 873.8 886.0 874.2 881.1 874.7 887.7 875.1 885.3 875.6 889.4 876.0 883.9 876.5 887.8 877.0 881.1 877.4 886.8 877.9 883.7 878.3 888.0 878.8 884.8 879.2 888.2 879.7 884.5 880.1 886.5 880.6 883.1 881.0 887.8 881.5 883.9 882.0 886.2 882.4 885.4 882.9 888.1 883.3 886.1 883.8 888.4 884.2 886.1 884.7 887.8 885.1 884.0 885.6 888.3 886.1 884.4 886.5 891.2 887.0 884.9 887.4 888.6 887.9 886.3 888.3 888.4 888.8 884.8 889.2 887.2 889.7 885.4 890.1 888.6 890.6 884.4 891.1 887.9 891.5 886.0 892.0 887.8 892.4 886.3 892.9 887.4 893.3 881.7 893.8 888.5 894.2 884.0 894.7 888.7 895.2 884.6 895.6 889.5 896.1 884.5 896.5 888.4 897.0 885.0 897.4 888.4 897.9 885.4 898.3 888.6 898.8 885.4 899.2 887.0 899.7 885.8 900.2 887.8 900.6 885.0 901.1 888.8 901.5 884.6 902.0 888.9 902.4 885.0 902.9 891.8 903.3 886.9 903.8 889.2 904.2 884.8 904.7 888.6 905.2 885.2 905.6 891.3 906.1 885.8 906.5 888.9 907.0 882.1 907.4 887.7 907.9 886.4 908.3 888.1 908.8 882.3 909.3 888.6 909.7 887.0 910.2 889.0 910.6 885.7 911.1 887.7 911.5 885.3 912.0 887.7 912.4 885.3 912.9 889.4 913.3 885.7 913.8 887.9 914.3 886.3 914.7 887.9 915.2 885.8 915.6 890.3 916.1 885.2 916.5 887.8 917.0 883.5 917.4 889.3 917.9 886.1 918.4 887.5 918.8 885.4 919.3 887.7 919.7 886.2 920.2 887.9 920.6 885.1 921.1 889.4 921.5 886.6 922.0 888.6 922.4 886.0 922.9 890.0 923.4 885.0 923.8 889.1 924.3 885.8 924.7 889.2 925.2 886.1 925.6 888.2 926.1 885.5 926.5 888.8 927.0 886.5 927.5 888.2 927.9 885.1 928.4 891.2 928.8 885.4 929.3 888.1 929.7 886.0 930.2 887.9 930.6 886.0 931.1 889.4 931.5 886.3 932.0 888.4 932.5 885.6 932.9 889.2 933.4 886.4 933.8 891.1 934.3 885.7 934.7 888.8 935.2 885.1 935.6 889.2 936.1 885.1 936.6 888.4 937.0 886.5 937.5 889.0 937.9 885.6 938.4 892.3 938.8 885.1 939.3 892.2 939.7 886.7 940.2 890.3 940.6 885.2 941.1 891.2 941.6 885.3 942.0 887.4 942.5 886.4 942.9 889.0 943.4 887.2 943.8 889.4 944.3 885.1 944.7 888.3 945.2 886.0 945.7 890.0 946.1 886.8 946.6 888.1 947.0 886.7 947.5 888.4 947.9 886.9 948.4 888.1 948.8 886.8 949.3 888.9 949.7 882.7 950.2 889.2 950.7 885.8 951.1 891.5 951.6 882.4 952.0 888.1 952.5 885.4 952.9 891.4 953.4 886.4 953.8 889.5 954.3 886.6 954.8 888.5 955.2 885.1 955.7 888.7 956.1 885.1 956.6 889.4 957.0 885.5 957.5 889.1 957.9 886.3 958.4 888.6 958.8 883.6 959.3 887.7 959.8 885.8 960.2 888.9 960.7 886.0 961.1 887.7 961.6 887.1 962.0 887.9 962.5 885.7 962.9 887.5 963.4 885.6 963.9 889.4 964.3 885.7 964.8 889.0 965.2 886.1 965.7 888.1 966.1 886.5 966.6 889.2 967.0 887.1 967.5 892.4 967.9 885.1 968.4 889.0 968.9 885.5 969.3 889.2 969.8 887.1 970.2 887.8 970.7 882.2 971.1 887.5 971.6 886.8 972.0 888.9 972.5 885.9 973.0 887.4 973.4 884.2 973.9 892.4 974.3 886.9 974.8 889.2 975.2 882.6 975.7 888.6 976.1 886.8 976.6 891.7 977.0 887.1 977.5 887.9 978.0 885.4 978.4 889.2 978.9 886.5 979.3 889.3 979.8 885.7 980.2 887.6 980.7 885.3 981.1 889.0 981.6 885.7 982.1 888.7 982.5 885.9 983.0 888.6 983.4 885.9 983.9 888.9 984.3 884.5 984.8 888.2 985.2 886.2 985.7 889.1 986.1 884.7 986.6 888.4 987.1 885.5 987.5 887.6 988.0 885.6 988.4 888.1 988.9 885.2 989.3 888.7 989.8 886.6 990.2 889.4 990.7 885.0 991.1 888.6 991.6 886.9 992.1 887.6 992.5 885.2 993.0 889.1 993.4 885.1 993.9 887.6 994.3 885.1 994.8 888.3 995.2 885.2 995.7 889.0 996.2 883.9 996.6 888.5 997.1 885.3 997.5 889.2 998.0 885.9 998.4 889.5 998.9 885.9 999.3 887.3 999.8 885.2 1000.2 888.8 1000.7 886.2 1001.2 887.3 1001.6 885.2 1002.1 888.0 1002.5 885.6 1003.0 888.5 1003.4 885.3 1003.9 889.3 1004.3 884.8 1004.8 890.4 1005.3 885.8 1005.7 887.9 1006.2 886.6 1006.6 887.5 1007.1 885.8 1007.5 887.3 1008.0 885.1 1008.4 887.1 1008.9 886.2 1009.3 888.3 1009.8 885.4 1010.3 889.8 1010.7 886.5 1011.2 889.1 1011.6 882.2 1012.1 891.6 1012.5 885.6 1013.0 889.1 1013.4 885.7 1013.9 890.0 1014.4 885.7 1014.8 887.1 1015.3 883.1 1015.7 888.9 1016.2 884.9 1016.6 889.6 1017.1 884.4 1017.5 887.6 1018.0 884.4 1018.4 888.7 1018.9 885.5 1019.4 886.6 1019.8 883.0 1020.3 890.0 1020.7 885.4 1021.2 886.6 1021.6 886.2 1022.1 887.7 1022.5 885.9 1023.0 886.8 1023.5 885.2 1023.9 887.2 1024.4 886.1 1024.8 888.7 1025.3 883.8 1025.7 887.5 1026.2 884.8 1026.6 888.3 1027.1 884.4 1027.5 888.6 1028.0 884.1 1028.5 888.1 1028.9 885.6 1029.4 888.5 1029.8 884.5 1030.3 891.3 1030.7 883.8 1031.2 886.2 1031.6 885.4 1032.1 887.8 1032.6 884.1 1033.0 886.0 1033.5 883.7 1033.9 889.0 1034.4 881.4 1034.8 887.7 1035.3 884.5 1035.7 886.9 1036.2 884.6 1036.6 887.6 1037.1 882.4 1037.6 886.7 1038.0 884.1 1038.5 886.3 1038.9 883.8 1039.4 887.0 1039.8 882.5 1040.3 886.5 1040.7 884.1 1041.2 885.7 1041.7 881.8 1042.1 886.5 1042.6 881.0 1043.0 884.0 1043.5 882.3 1043.9 884.7 1044.4 881.3 1044.8 884.9 1045.3 877.8 1045.7 886.0 1046.2 880.3 1046.7 883.5 1047.1 880.7 1047.6 887.0 1048.0 881.3 1048.5 885.9 1048.9 882.2 1049.4 885.2 1049.8 880.6 1050.3 885.8 1050.8 881.6 1051.2 886.6 1051.7 880.9 1052.1 883.3 1052.6 881.9 1053.0 884.8 1053.5 876.9 1053.9 885.8 1054.4 882.9 1054.8 887.7 1055.3 880.7 1055.8 884.8 1056.2 880.2 1056.7 883.5 1057.1 880.9 1057.6 885.8 1058.0 882.8 1058.5 884.8 1058.9 878.6 1059.4 885.8 1059.9 881.6 1060.3 885.6 1060.8 880.0 1061.2 885.5 1061.7 882.6 1062.1 885.2 1062.6 881.6 1063.0 886.7 1063.5 880.3 1063.9 884.6 1064.4 881.0 1064.9 885.8 1065.3 882.8 1065.8 884.6 1066.2 882.2 1066.7 884.0 1067.1 881.1 1067.6 885.3 1068.0 879.8 1068.5 885.1 1069.0 882.1 1069.4 885.4 1069.9 881.4 1070.3 885.6 1070.8 878.5 1071.2 885.6 1071.7 882.8 1072.1 885.1 1072.6 881.2 1073.0 885.4 1073.5 880.6 1074.0 885.7 1074.4 879.8 1074.9 885.1 1075.3 879.9 1075.8 888.0 1076.2 879.9 1076.7 884.9 1077.1 878.0 1077.6 887.0 1078.1 881.3 1078.5 885.4 1079.0 882.6 1079.4 885.2 1079.9 880.4 1080.3 885.4 1080.8 879.7 1081.2 886.2 1081.7 882.6 1082.1 885.4 1082.6 880.0 1083.1 883.0 1083.5 878.7 1084.0 883.3 1084.4 879.8 1084.9 884.3 1085.3 880.8 1085.8 887.7 1086.2 880.3 1086.7 884.2 1087.1 882.1 1087.6 884.1 1088.1 879.7 1088.5 884.1 1089.0 878.9 1089.4 882.9 1089.9 881.1 1090.3 883.1 1090.8 880.5 1091.2 883.3 1091.7 881.4 1092.2 885.4 1092.6 882.0 1093.1 885.4 1093.5 879.7 1094.0 885.6 1094.4 879.9 1094.9 886.4 1095.3 880.8 1095.8 883.0 1096.2 877.4 1096.7 884.9 1097.2 881.5 1097.6 882.9 1098.1 880.8 1098.5 885.4 1099.0 882.3 1099.4 882.7 1099.9 879.7 1100.3 883.6 1100.8 880.4 1101.3 885.0 1101.7 881.8 1102.2 887.8 1102.6 880.2 1103.1 882.7 1103.5 881.2 1104.0 884.0 1104.4 879.7 1104.9 885.7 1105.3 880.9 1105.8 884.7 1106.3 879.9 1106.7 884.3 1107.2 879.9 1107.6 885.4 1108.1 882.0 1108.5 884.0 1109.0 882.9 1109.4 885.9 1109.9 880.1 1110.4 884.0 1110.8 882.1 1111.3 884.1 1111.7 882.6 1112.2 886.1 1112.6 883.0 1113.1 884.7 1113.5 880.9 1114.0 887.3 1114.4 882.4 1114.9 884.7 1115.4 877.2 1115.8 885.7 1116.3 881.6 1116.7 885.9 1117.2 882.7 1117.6 885.7 1118.1 881.3 1118.5 885.2 1119.0 881.4 1119.5 884.8 1119.9 879.2 1120.4 889.0 1120.8 879.9 1121.3 886.3 1121.7 880.6 1122.2 884.5 1122.6 879.4 1123.1 884.8 1123.5 882.2 1124.0 888.6 1124.5 879.9 1124.9 886.7 1125.4 880.8 1125.8 884.7 1126.3 883.2 1126.7 885.0 1127.2 880.3 1127.6 885.8 1128.1 883.7 1128.6 886.8 1129.0 881.9 1129.5 886.4 1129.9 883.9 1130.4 888.3 1130.8 882.4 1131.3 886.9 1131.7 881.2 1132.2 885.2 1132.6 881.2 1133.1 884.2 1133.6 882.0 1134.0 886.3 1134.5 881.6 1134.9 885.4 1135.4 884.3 1135.8 887.3 1136.3 883.4 1136.7 886.3 1137.2 881.4 1137.7 885.5 1138.1 881.6 1138.6 887.1 1139.0 878.3 1139.5 886.5 1139.9 881.9 1140.4 884.7 1140.8 883.8 1141.3 886.0 1141.7 884.1 1142.2 887.3 1142.7 881.9 1143.1 886.7 1143.6 881.9 1144.0 886.1 1144.5 882.5 1144.9 885.5 1145.4 881.2 1145.8 887.3 1146.3 883.7 1146.8 887.1 1147.2 882.2 1147.7 885.7 1148.1 882.6 1148.6 888.0 1149.0 879.6 1149.5 885.9 1149.9 882.5 1150.4 886.8 1150.8 884.7 1151.3 886.8 1151.8 884.3 1152.2 888.1 1152.7 885.0 1153.1 887.6 1153.6 881.2 1154.0 885.9 1154.5 883.2 1154.9 886.4 1155.4 885.0 1155.9 886.7 1156.3 883.0 1156.8 891.3 1157.2 884.8 1157.7 887.7 1158.1 883.3 1158.6 887.5 1159.0 884.8 1159.5 888.4 1159.9 884.9 1160.4 890.5 1160.9 884.1 1161.3 888.9 1161.8 883.4 1162.2 888.9 1162.7 883.7 1163.1 887.3 1163.6 885.0 1164.0 888.9 1164.5 886.0 1165.0 887.8 1165.4 882.0 1165.9 889.2 1166.3 883.8 1166.8 887.8 1167.2 885.1 1167.7 891.2 1168.1 886.1 1168.6 888.6 1169.0 886.3 1169.5 890.4 M622.6 884 L622.6 871.7 L623 884" stroke="#c81e23" stroke-width="2.0"/>
<line x1="1031.9" y1="860.5" x2="1031.9" y2="884" stroke="#5e5660" stroke-width="2.6"/>
</g>
<rect x="1884.3" y="77.6" width="5.3" height="1350.1000000000001" fill="#4c7177"/>
<g font-size="52"><text x="211.2" y="1501" text-anchor="middle">-400</text><text x="416.4" y="1501" text-anchor="middle">-300</text><text x="621.6" y="1501" text-anchor="middle">-200</text><text x="826.8" y="1501" text-anchor="middle">-100</text><text x="1032.0" y="1501" text-anchor="middle">0</text><text x="1237.2" y="1501" text-anchor="middle">100</text><text x="1442.4" y="1501" text-anchor="middle">200</text><text x="1647.6" y="1501" text-anchor="middle">300</text><text x="1852.8" y="1501" text-anchor="middle">400</text><text x="156" y="1346.9" text-anchor="end">-2</text><text x="156" y="1126.6" text-anchor="end">-1</text><text x="156" y="906.3" text-anchor="end">0</text><text x="156" y="686.0" text-anchor="end">1</text><text x="156" y="465.7" text-anchor="end">2</text><text x="156" y="245.4" text-anchor="end">3</text></g>
<text font-size="57.9" x="1032" y="1578" text-anchor="middle">Doppler [Hz]</text>
<text font-size="57.9" transform="translate(81.3 752.7) rotate(-90)" text-anchor="middle">Interferometric Phase [rad]</text>
<rect x="797.7" y="119.6" width="1050" height="144.6" fill="#fff" stroke="#262626" stroke-width="2.2"/>
<line x1="815" y1="159.4" x2="973" y2="159.4" stroke="#71899b" stroke-width="3.2"/>
<line x1="815" y1="223.4" x2="973" y2="223.4" stroke="#902a38" stroke-width="2.6" stroke-dasharray="16.2 3.6 9.9 3.6 4.5 3.6 7.3 3.6 4.5 3.6 9.9 3.6 16.3 2.7 5.4 2.7 16.3 3.6 9.9 2.7 5.4 3.6 9 1.9 3.6 10"/>
<g font-size="47.3">
<text x="984" y="178.2">Original interferometric phase trend</text>
<text x="984" y="242.8">Phase trend after ambiguity suppression</text>
</g>
</svg>
</body></html>
